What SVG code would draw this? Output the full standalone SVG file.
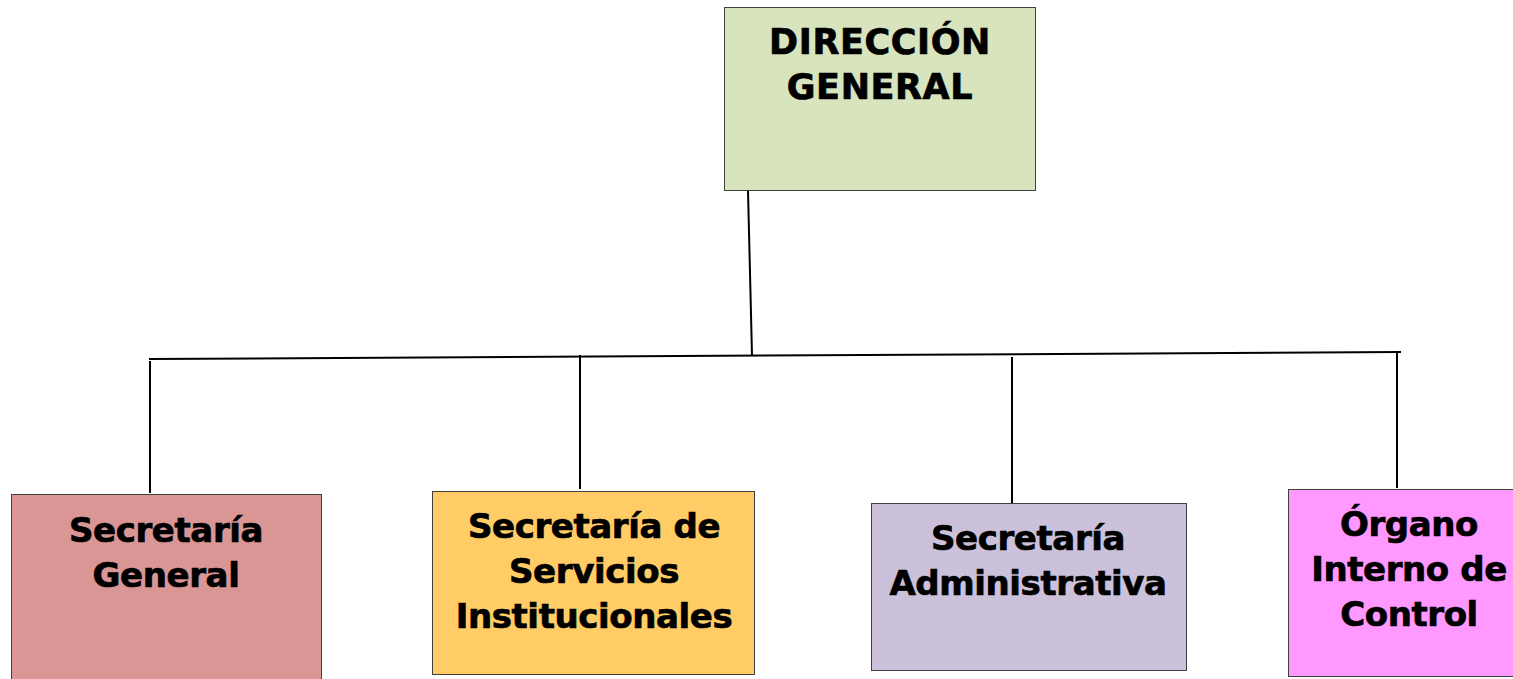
<svg xmlns="http://www.w3.org/2000/svg" width="1513" height="679" viewBox="0 0 1513 679">
<style>
.box{stroke:#404040;stroke-width:1}
.t{font-family:"DejaVu Sans","Verdana",sans-serif;font-weight:bold;font-size:34px;fill:#000;stroke:#000;stroke-width:0.7;text-anchor:middle;letter-spacing:-0.4px}
.cap{font-size:35px;letter-spacing:0.6px}
.c{stroke:#000;stroke-width:2;fill:none}
</style>
<rect width="1513" height="679" fill="#fff"/>
<g id="connectors">
<line class="c" x1="748" y1="191" x2="752" y2="355"/>
<line class="c" x1="149" y1="359" x2="1401" y2="352"/>
<line class="c" x1="150" y1="361" x2="150" y2="493"/>
<line class="c" x1="580" y1="355" x2="580" y2="489"/>
<line class="c" x1="1012" y1="357" x2="1012" y2="503"/>
<line class="c" x1="1397" y1="352" x2="1397" y2="488"/>
</g>
<g id="direccion-general">
<rect class="box" x="724.5" y="7.5" width="311" height="183" fill="#D7E4BD"/>
<text class="t cap" x="880" y="54">DIRECCIÓN</text>
<text class="t cap" x="880" y="99">GENERAL</text>
</g>
<g id="secretaria-general">
<rect class="box" x="11.5" y="494.5" width="310" height="190" fill="#D99694"/>
<text class="t" x="166" y="542">Secretaría</text>
<text class="t" x="166" y="587">General</text>
</g>
<g id="secretaria-servicios">
<rect class="box" x="432.5" y="491.5" width="322" height="183" fill="#FFCC66"/>
<text class="t" x="594" y="538">Secretaría de</text>
<text class="t" x="594" y="583">Servicios</text>
<text class="t" x="594" y="628">Institucionales</text>
</g>
<g id="secretaria-administrativa">
<rect class="box" x="871.5" y="503.5" width="315" height="167" fill="#CCC1DA"/>
<text class="t" x="1028" y="550">Secretaría</text>
<text class="t" x="1028" y="595">Administrativa</text>
</g>
<g id="organo-interno">
<rect class="box" x="1288.5" y="489.5" width="230" height="187" fill="#FF99FF"/>
<text class="t" x="1409" y="536">Órgano</text>
<text class="t" x="1409" y="581">Interno de</text>
<text class="t" x="1409" y="626">Control</text>
</g>
</svg>
